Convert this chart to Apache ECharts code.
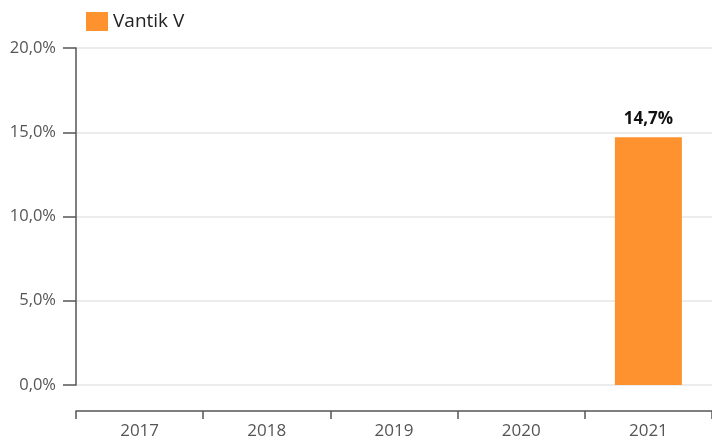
<!DOCTYPE html>
<html><head><meta charset="utf-8">
<script src="https://cdn.jsdelivr.net/npm/echarts@6/dist/echarts.min.js"></script>
<style>html,body{margin:0;padding:0;background:#fff}#c{width:712px;height:442px}</style>
</head><body><div id="c"></div>
<script>
var categories = ['2017','2018','2019','2020','2021'];
var seriesName = 'Vantik V';
var values = [null, null, null, null, 14.7];
var yTicks = [0, 5, 10, 15, 20];

function fmt(v){ return v.toFixed(1).replace('.', ',') + '%'; }

var chart = echarts.init(document.getElementById('c'));
chart.setOption({
  animation: false,
  textStyle: { fontFamily: 'Open Sans' },
  legend: {
    left: 81, top: 7, itemWidth: 22, itemHeight: 19, itemGap: 10,
    icon: 'rect',
    textStyle: { fontSize: 19, color: '#222', fontFamily: 'Open Sans' },
    data: [seriesName]
  },
  grid: { left: 76, right: -1, top: 48, bottom: 57, containLabel: false },
  xAxis: {
    type: 'category', data: categories, offset: 26,
    axisLine: { show: true, onZero: false, lineStyle: { color: '#555', width: 1.5 } },
    axisTick: { show: true, length: 8, alignWithLabel: false, lineStyle: { color: '#555', width: 1.5 } },
    axisLabel: { fontSize: 17, color: '#555', margin: 12, fontFamily: 'Open Sans' },
    splitLine: { show: false }
  },
  yAxis: {
    type: 'value', min: yTicks[0], max: yTicks[yTicks.length-1], interval: 5,
    axisLine: { show: true, lineStyle: { color: '#555', width: 1.5 } },
    axisTick: { show: true, length: 13, lineStyle: { color: '#555', width: 1.5 } },
    axisLabel: { fontSize: 16.5, color: '#555', margin: 20, formatter: fmt, fontFamily: 'Open Sans' },
    splitLine: { show: true, lineStyle: { color: '#e6e6e6', width: 1.5 } }
  },
  series: [{
    name: seriesName, type: 'bar', data: values, barWidth: 67,
    itemStyle: { color: '#fd922f' },
    label: {
      show: true, position: 'top', distance: 10,
      formatter: function(p){ return fmt(p.value); },
      fontSize: 17, fontWeight: 'bold', color: '#111', fontFamily: 'Open Sans'
    }
  }]
});
</script></body></html>
